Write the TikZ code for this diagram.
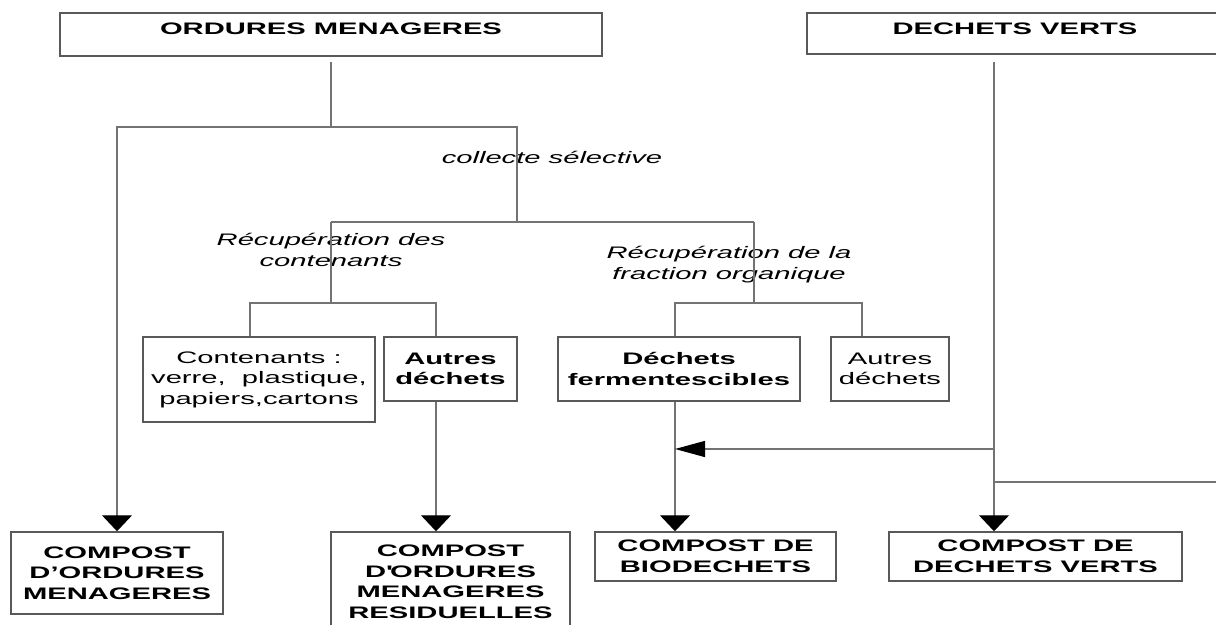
\documentclass[tikz,border=0pt]{standalone}
\usepackage{fontspec}
\setmainfont[FakeStretch=1.75]{Liberation Sans}
\usetikzlibrary{arrows.meta}

\begin{document}
\begin{tikzpicture}[
x=0.6pt,
y=-0.6pt,
box/.style={
rectangle,
draw=black!65,
line width=0.9pt,
align=center,
inner sep=2pt,
font=\fontsize{10}{12.3}\selectfont
},
bbox/.style={
box,
font=\fontsize{10}{12.3}\selectfont\bfseries
},
ptext/.style={
draw=none,
fill=none,
align=center,
font=\fontsize{10}{12.6}\selectfont\itshape
},
link/.style={
draw=black!55,
line width=0.8pt
},
tipdown/.style={
link,
-{Triangle[length=9.6pt,width=18pt,black]}
},
tipleft/.style={
link,
-{Triangle[length=18pt,width=9.6pt,black]}
}]

\clip (0,0) rectangle (1216,625);

% sources
\node [bbox, minimum width=325.2pt, minimum height=25.8pt, text depth=6.6pt] (om) at (331,34.5) {ORDURES MENAGERES};
\node [bbox, minimum width=249.6pt, minimum height=24.6pt, text depth=5.4pt] (dv) at (1015,33.5) {DECHETS VERTS};

% sorted fractions
\node [box, minimum width=139.2pt, minimum height=51pt] (cont) at (259,379.5) {Contenants :\\verre,~ plastique,\\papiers,cartons};
\node [bbox, minimum width=79.8pt, minimum height=38.4pt] (autA) at (450.5,369) {Autres\\déchets};
\node [bbox, minimum width=145.2pt, minimum height=38.4pt] (ferm) at (679,369) {Déchets\\fermentescibles};
\node [box, minimum width=70.8pt, minimum height=38.4pt] (autB) at (890,369) {Autres\\déchets};

% composts
\node [bbox, minimum width=127.2pt, minimum height=49.2pt] (cOM) at (117,573) {COMPOST\\D’ORDURES\\MENAGERES};
\node [bbox, minimum width=143.4pt, minimum height=60pt] (cOMR) at (450.5,582) {COMPOST\\D\textquotesingle ORDURES\\MENAGERES\\RESIDUELLES};
\node [bbox, minimum width=144.6pt, minimum height=29.4pt] (cBio) at (715.5,556.5) {COMPOST DE\\BIODECHETS};
\node [bbox, minimum width=175.8pt, minimum height=29.4pt] (cDV) at (1035.5,556.5) {COMPOST DE\\DECHETS VERTS};

% labels
\node [ptext] (sel) at (552,157) {collecte sélective};
\node [ptext] (rcont) at (331,250) {Récupération des\\contenants};
\node [ptext] (rorg) at (729,265) {Récupération de la\\fraction organique};

% junctions
\coordinate (split1) at (331,127);
\coordinate (split2) at (517,222);
\coordinate (rc) at (331,222);
\coordinate (ro) at (754,222);
\coordinate (bl) at (250,303);
\coordinate (br) at (436,303);
\coordinate (fl) at (675,303);
\coordinate (fr) at (862,303);
\coordinate (mix) at (994,449);
\coordinate (out) at (1230,482);

\draw[link, shorten <=3pt] (om.south) -- (split1);
\draw[tipdown] (split1) -| (cOM.north);
\draw[link] (split1) -| (split2);
\draw[link] (rc) -- (ro);

\draw[link] (rc) -- (rc |- bl);
\draw[link] (cont.north -| bl) |- (br) -- (autA.north -| br);
\draw[tipdown] (autA.south -| br) -- (cOMR.north -| br);

\draw[link] (ro) -- (ro |- fl);
\draw[link] (ferm.north -| fl) |- (fr) -- (autB.north -| fr);
\draw[tipdown] (ferm.south -| fl) -- (cBio.north -| fl);

\draw[tipdown, shorten <=4.2pt] (dv.south -| mix) -- (cDV.north -| mix);
\draw[tipleft] (mix) -- (mix -| fl);
\draw[link] (mix |- out) -- (out);

\end{tikzpicture}
\end{document}
